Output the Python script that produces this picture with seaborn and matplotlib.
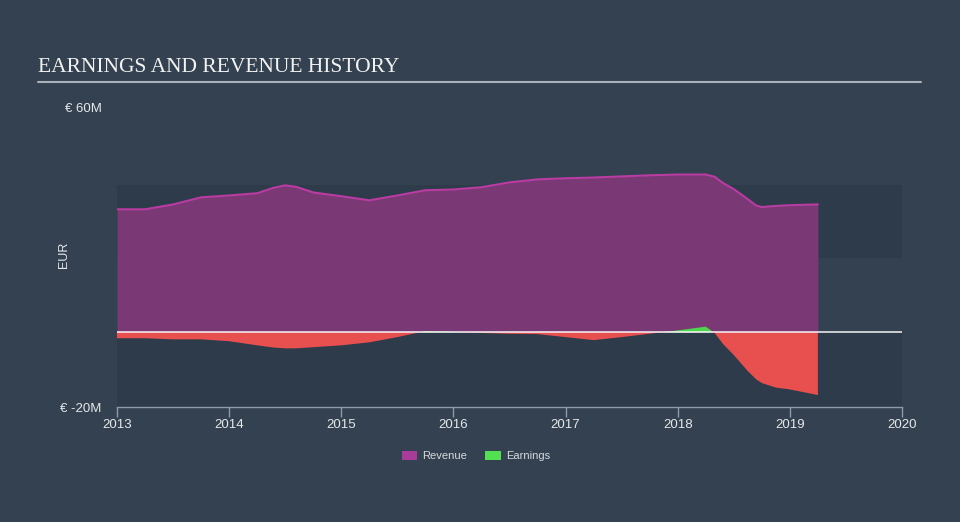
import numpy as np
import pandas as pd
import matplotlib
matplotlib.use("Agg")
import matplotlib.pyplot as plt
from matplotlib.patches import Patch
import seaborn as sns

# ---- data (EUR millions) ----
years = [2013.00, 2013.25, 2013.50, 2013.75, 2014.00, 2014.25, 2014.40, 2014.50, 2014.60,
         2014.75, 2015.00, 2015.25, 2015.50, 2015.75, 2016.00, 2016.25, 2016.50, 2016.75,
         2017.00, 2017.25, 2017.50, 2017.75, 2018.00, 2018.25, 2018.33, 2018.40,
         2018.50, 2018.625, 2018.70, 2018.75, 2018.875, 2019.00, 2019.25]
revenue = [32.9, 32.9, 34.2, 36.1, 36.6, 37.2, 38.7, 39.3, 38.9,
           37.4, 36.4, 35.3, 36.6, 38.0, 38.2, 38.8, 40.1, 40.9,
           41.2, 41.4, 41.7, 42.0, 42.2, 42.2, 41.6, 40.0,
           38.3, 35.6, 33.9, 33.5, 33.8, 34.0, 34.2]
earnings = [-1.6, -1.6, -1.9, -1.9, -2.4, -3.5, -4.1, -4.3, -4.3,
            -4.0, -3.5, -2.7, -1.3, 0.3, 0.1, -0.2, -0.4, -0.5,
            -1.3, -2.1, -1.3, -0.4, 0.5, 1.5, -0.2, -3.0,
            -6.1, -10.4, -12.6, -13.6, -14.8, -15.3, -16.8]
year_ticks = [2013, 2014, 2015, 2016, 2017, 2018, 2019, 2020]
y_ticks = [60, -20]
y_tick_labels = ["€ 60M", "€ -20M"]

df = pd.DataFrame({"year": years, "revenue": revenue, "earnings": earnings})

BG = "#334150"
BAND = "#2d3b4a"
PURPLE = "#7a3874"
PURPLE_LINE = "#b83ca2"
RED = "#e84f4f"
GREEN = "#4fd44f"
TXT = "#e6e8ea"

sns.set_theme(style="dark")
plt.rcParams["font.family"] = ["Liberation Sans", "DejaVu Sans"]

fig = plt.figure(figsize=(9.6, 5.22), dpi=100, facecolor=BG)
ax = fig.add_axes([117 / 960, (522 - 407) / 522, 785 / 960, 299 / 522])
ax.set_facecolor(BG)

# background bands
ax.axhspan(19.8, 39.4, color=BAND, zorder=0, lw=0)
ax.axhspan(-20, 0, color=BAND, zorder=0, lw=0)

# revenue
ax.fill_between(df["year"], 0, df["revenue"], color=PURPLE, lw=0, zorder=2)
sns.lineplot(data=df, x="year", y="revenue", ax=ax, color=PURPLE_LINE, lw=1.5, zorder=3)

# earnings
ax.fill_between(df["year"], 0, df["earnings"], where=df["earnings"] <= 0,
                interpolate=True, color=RED, lw=0, zorder=4)
ax.fill_between(df["year"], 0, df["earnings"], where=df["earnings"] >= 0,
                interpolate=True, color=GREEN, lw=0, zorder=4)

# zero line
ax.axhline(0, color="white", lw=1.1, zorder=5, alpha=0.95)

ax.set_xlim(2013, 2020)
ax.set_ylim(-20, 60)
ax.set_xticks(year_ticks)
ax.set_xticklabels([str(y) for y in year_ticks], color=TXT, fontsize=9.5)
ax.set_yticks(y_ticks)
ax.set_yticklabels(y_tick_labels, color=TXT, fontsize=9.5)
ax.tick_params(axis="y", length=0, pad=11)
ax.tick_params(axis="x", length=7, width=1, color="#8c9bab", pad=2, direction="out", bottom=True)
ax.set_xlabel("")
ax.set_ylabel("EUR", color=TXT, fontsize=9)
ax.yaxis.set_label_coords(-0.060, 0.51)
ax.grid(False)
for s in ["top", "right", "left"]:
    ax.spines[s].set_visible(False)
ax.spines["bottom"].set_visible(True)
ax.spines["bottom"].set_color("#8c9bab")
ax.spines["bottom"].set_linewidth(1)

# title and underline
fig.text(38 / 960, 1 - 68 / 522, "EARNINGS AND REVENUE HISTORY", fontsize=15.5,
         color="#f2f2f2", family=["Liberation Serif", "DejaVu Serif"], va="center", ha="left")
fig.add_artist(plt.Line2D([38 / 960, 921 / 960], [1 - 82 / 522, 1 - 82 / 522],
                          color="#a9b0b8", lw=1.5, transform=fig.transFigure))

# legend
handles = [Patch(facecolor="#a83c98", edgecolor="none", label="Revenue"),
           Patch(facecolor="#52e052", edgecolor="none", label="Earnings")]
leg = fig.legend(handles=handles, loc="center", bbox_to_anchor=(476 / 960, 1 - 456 / 522),
                 ncol=2, frameon=False, fontsize=8, handlelength=1.4, handleheight=0.9,
                 columnspacing=1.6, handletextpad=0.5)
for t in leg.get_texts():
    t.set_color("#d6d9dc")

fig.savefig("out.png", dpi=100, facecolor=BG)
